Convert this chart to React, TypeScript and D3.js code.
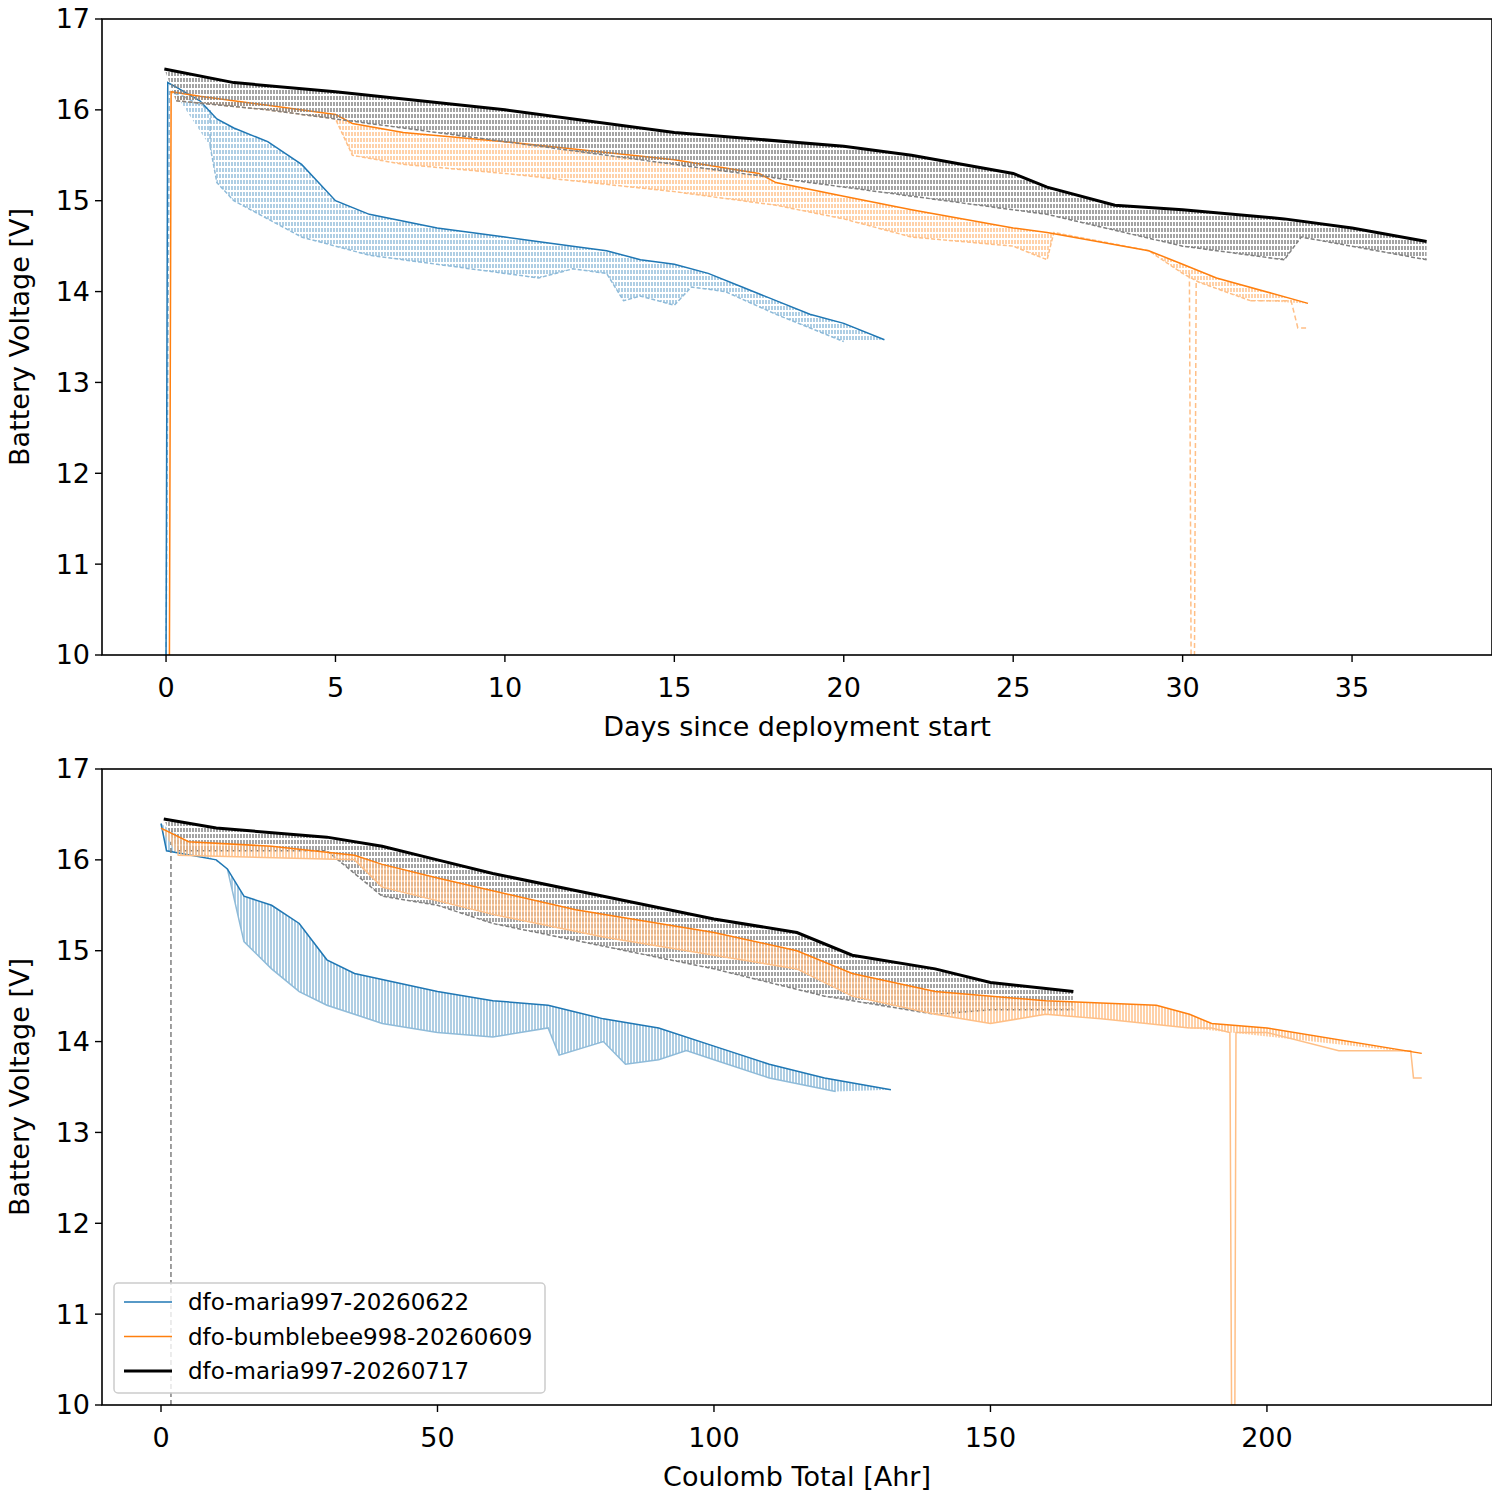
import React from 'react';
import * as d3 from 'd3';

type P = [number, number];

// ---- top panel: days since deployment start ----
const blueDayUpper: P[] = [[0.0, 10], [0.05, 16.3], [0.3, 16.25], [1, 16.1], [1.5, 15.9], [2, 15.8], [3, 15.65], [4, 15.4], [4.5, 15.2], [5, 15.0], [6, 14.85], [8, 14.7], [10, 14.6], [12, 14.5], [13, 14.45], [14, 14.35], [15, 14.3], [16, 14.2], [17, 14.05], [18, 13.9], [19, 13.75], [20, 13.65], [21.2, 13.47]];
const blueDayLower: P[] = [[1.3, 15.6], [1.5, 15.2], [2, 15.0], [3, 14.8], [4, 14.6], [5, 14.5], [6, 14.4], [8, 14.3], [10, 14.2], [11, 14.15], [12, 14.25], [13, 14.2], [13.5, 13.9], [14, 13.95], [15, 13.85], [15.5, 14.05], [16.5, 14.0], [18, 13.75], [19, 13.6], [20, 13.45]];
const blueDayLead: P[] = [[0.0, 10], [0.1, 16.2], [0.5, 16.15], [1.3, 16.0], [1.3, 15.6]];

const orangeDayUpper: P[] = [[0.1, 10], [0.15, 16.2], [1, 16.15], [3, 16.05], [5, 15.95], [5.5, 15.85], [7, 15.75], [10, 15.65], [15, 15.45], [17.5, 15.3], [18, 15.2], [20, 15.05], [22, 14.9], [25, 14.7], [26, 14.65], [29, 14.45], [30, 14.3], [31, 14.15], [33.7, 13.87]];
const orangeDayLower: P[] = [[0.3, 16.1], [3, 16.0], [5, 15.9], [5.5, 15.5], [7, 15.4], [10, 15.3], [15, 15.1], [18, 14.95], [20, 14.8], [22, 14.6], [25, 14.5], [26, 14.35], [26.2, 14.65], [29, 14.45], [30, 14.2], [30.5, 14.1], [32, 13.9]];
const orangeDayTail: P[] = [[32, 13.9], [33.2, 13.9], [33.4, 13.6], [33.7, 13.6]];
const orangeDayDrop: P[] = [[30.2, 14.2], [30.25, 10], [30.35, 10], [30.4, 14.1]];

const blackDayUpper: P[] = [[-0.05, 16.45], [2, 16.3], [5, 16.2], [10, 16.0], [15, 15.75], [20, 15.6], [22, 15.5], [25, 15.3], [26, 15.15], [28, 14.95], [30, 14.9], [33, 14.8], [35, 14.7], [37.2, 14.55]];
const blackDayLower: P[] = [[0.3, 16.1], [3, 16.0], [5, 15.9], [7, 15.8], [10, 15.65], [15, 15.4], [20, 15.15], [25, 14.9], [26, 14.85], [30, 14.5], [33, 14.35], [33.5, 14.6], [37.2, 14.35]];

// ---- bottom panel: coulomb total ----
const blueAhrUpper: P[] = [[0, 16.4], [1, 16.1], [10, 16.0], [12, 15.9], [15, 15.6], [20, 15.5], [25, 15.3], [30, 14.9], [35, 14.75], [50, 14.55], [60, 14.45], [70, 14.4], [80, 14.25], [90, 14.15], [100, 13.95], [110, 13.75], [120, 13.6], [132, 13.47]];
const blueAhrLower: P[] = [[12, 15.9], [15, 15.1], [20, 14.8], [25, 14.55], [30, 14.4], [40, 14.2], [50, 14.1], [60, 14.05], [70, 14.15], [72, 13.85], [80, 14.0], [84, 13.75], [90, 13.8], [95, 13.9], [100, 13.8], [110, 13.6], [122, 13.45]];

const orangeAhrUpper: P[] = [[0, 16.35], [5, 16.2], [20, 16.15], [35, 16.05], [40, 15.95], [50, 15.8], [75, 15.45], [100, 15.2], [115, 15.0], [125, 14.75], [140, 14.55], [160, 14.45], [180, 14.4], [186, 14.3], [190, 14.2], [200, 14.15], [228, 13.87]];
const orangeAhrLower: P[] = [[3, 16.05], [35, 16.0], [40, 15.7], [60, 15.4], [80, 15.15], [100, 14.95], [115, 14.8], [125, 14.5], [140, 14.3], [150, 14.2], [160, 14.3], [170, 14.25], [186, 14.15]];
const orangeAhrTail: P[] = [[186, 14.15], [190, 14.15], [193.3, 14.1], [193.6, 10], [194.2, 10], [194.4, 14.1], [200, 14.1], [213, 13.9], [226, 13.9], [226.5, 13.6], [228, 13.6]];

const blackAhrUpper: P[] = [[0.5, 16.45], [10, 16.35], [30, 16.25], [40, 16.15], [50, 16.0], [60, 15.85], [80, 15.6], [100, 15.35], [115, 15.2], [125, 14.95], [140, 14.8], [150, 14.65], [165, 14.55]];
const blackAhrLower: P[] = [[3, 16.1], [30, 16.1], [40, 15.6], [50, 15.5], [60, 15.3], [80, 15.05], [100, 14.8], [120, 14.5], [140, 14.3], [150, 14.35], [165, 14.35]];
const blackAhrLead: P[] = [[1.8, 10], [1.8, 16.2]];

const legendNames = ['dfo-maria997-20260622', 'dfo-bumblebee998-20260609', 'dfo-maria997-20260717'];
const yTicks = [10, 11, 12, 13, 14, 15, 16, 17];
const dayTicks = [0, 5, 10, 15, 20, 25, 30, 35];
const ahrTicks = [0, 50, 100, 150, 200];

const C = {
  blue: '#1f77b4', lblue: '#8fbbd9',
  orange: '#ff7f0e', lorange: '#ffbf86',
  black: '#000000', gray: '#808080',
};

interface S { upper: P[]; lower: P[]; color: string; light: string; width: number; extras: P[][]; lowerDash: boolean; pat: string }

const Panel: React.FC<{ top: number; xDomain: [number, number]; xTicks: number[]; xLabel: string; series: S[]; legend?: boolean; id: string }> = ({ top, xDomain, xTicks, xLabel, series, legend, id }) => {
  const L = 102, R = 1492, H = 636;
  const x = d3.scaleLinear().domain(xDomain).range([L, R]);
  const y = d3.scaleLinear().domain([10, 17]).range([top + H, top]);
  const line = d3.line<P>().x(d => x(d[0])).y(d => y(d[1]));
  const font = 'DejaVu Sans, sans-serif';
  return (
    <g>
      <defs>
        <clipPath id={`clip-${id}`}><rect x={L} y={top} width={R - L} height={H} /></clipPath>
        {series.map((s, i) => (
          <pattern key={i} id={`${id}-${s.pat}`} width={3} height={6} patternUnits="userSpaceOnUse">
            <line x1={1} y1={0} x2={1} y2={6} stroke={s.light} strokeWidth={1.6} strokeDasharray={s.lowerDash ? '4,2' : undefined} />
          </pattern>
        ))}
      </defs>
      <g clipPath={`url(#clip-${id})`}>
        {series.map((s, i) => {
          const poly = [...s.upper.filter(p => p[1] > 10.5), ...[...s.lower].reverse()];
          return (
            <g key={i}>
              <path d={line(poly) + 'Z'} fill={`url(#${id}-${s.pat})`} opacity={0.9} />
              <path d={line(s.lower)!} fill="none" stroke={s.light} strokeWidth={1.5} strokeDasharray={s.lowerDash ? '4,2' : undefined} />
              {s.extras.map((e, j) => (
                <path key={j} d={line(e)!} fill="none" stroke={s.light} strokeWidth={1.5} strokeDasharray={s.lowerDash ? '5,3' : undefined} />
              ))}
              <path d={line(s.upper)!} fill="none" stroke={s.color} strokeWidth={s.width} />
            </g>
          );
        })}
      </g>
      <rect x={L} y={top} width={R - L} height={H} fill="none" stroke="#000" strokeWidth={1.6} />
      {yTicks.map(t => (
        <g key={t}>
          <line x1={L - 7} x2={L} y1={y(t)} y2={y(t)} stroke="#000" strokeWidth={1.4} />
          <text x={L - 12} y={y(t)} dy="0.35em" textAnchor="end" fontSize={27} fontFamily={font}>{t}</text>
        </g>
      ))}
      {xTicks.map(t => (
        <g key={t}>
          <line x1={x(t)} x2={x(t)} y1={top + H} y2={top + H + 7} stroke="#000" strokeWidth={1.4} />
          <text x={x(t)} y={top + H + 42} textAnchor="middle" fontSize={27} fontFamily={font}>{t}</text>
        </g>
      ))}
      <text x={(L + R) / 2} y={top + H + 81} textAnchor="middle" fontSize={27} fontFamily={font}>{xLabel}</text>
      <text transform={`translate(29,${top + H / 2}) rotate(-90)`} textAnchor="middle" fontSize={27} fontFamily={font}>Battery Voltage [V]</text>
      {legend && (
        <g>
          <rect x={114} y={1283} width={431} height={110} rx={4} fill="#fff" fillOpacity={0.8} stroke="#ccc" strokeWidth={1.5} />
          {legendNames.map((n, i) => (
            <g key={n}>
              <line x1={124} x2={172} y1={1302 + i * 34.5} y2={1302 + i * 34.5} stroke={[C.blue, C.orange, C.black][i]} strokeWidth={i === 2 ? 3 : 1.5} />
              <text x={188} y={1302 + i * 34.5} dy="0.35em" fontSize={23} fontFamily={font}>{n}</text>
            </g>
          ))}
        </g>
      )}
    </g>
  );
};

export default function App() {
  const topSeries: S[] = [
    { upper: blueDayUpper, lower: blueDayLower, color: C.blue, light: C.lblue, width: 1.5, extras: [blueDayLead], lowerDash: true, pat: 'b' },
    { upper: orangeDayUpper, lower: orangeDayLower, color: C.orange, light: C.lorange, width: 1.5, extras: [orangeDayTail, orangeDayDrop], lowerDash: true, pat: 'o' },
    { upper: blackDayUpper, lower: blackDayLower, color: C.black, light: C.gray, width: 3, extras: [], lowerDash: true, pat: 'k' },
  ];
  const botSeries: S[] = [
    { upper: blueAhrUpper, lower: blueAhrLower, color: C.blue, light: C.lblue, width: 1.5, extras: [], lowerDash: false, pat: 'b' },
    { upper: blackAhrUpper, lower: blackAhrLower, color: C.black, light: C.gray, width: 3, extras: [blackAhrLead], lowerDash: true, pat: 'k' },
    { upper: orangeAhrUpper, lower: orangeAhrLower, color: C.orange, light: C.lorange, width: 1.5, extras: [orangeAhrTail], lowerDash: false, pat: 'o' },
  ];
  return (
    <svg width={1500} height={1500} style={{ display: 'block', margin: -8, background: '#fff' }}>
      <Panel id="top" top={19} xDomain={[-1.89, 39.13]} xTicks={dayTicks} xLabel="Days since deployment start" series={topSeries} />
      <Panel id="bot" top={769} xDomain={[-10.67, 240.7]} xTicks={ahrTicks} xLabel="Coulomb Total [Ahr]" series={botSeries} legend />
    </svg>
  );
}
